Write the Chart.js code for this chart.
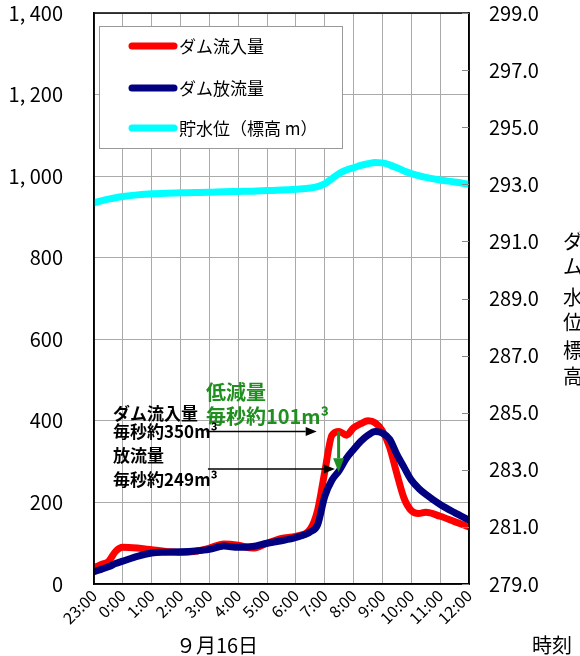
<!DOCTYPE html>
<html><head><meta charset="utf-8">
<script src="https://cdn.jsdelivr.net/npm/chart.js@4.4.0/dist/chart.umd.min.js"></script>
<style>html,body{margin:0;padding:0;background:#fff;}</style>
</head><body>
<canvas id="c" width="580" height="656"></canvas>
<script>
// ---- data ----
const timeLabels = ['23:00','0:00','1:00','2:00','3:00','4:00','5:00','6:00','7:00','8:00','9:00','10:00','11:00','12:00'];
const leftTickLabels = ['0','200','400','600','800','1, 000','1, 200','1, 400'];
// hours relative to 0:00 on 9/16 (23:00 of previous day = -1)
const hours = [-1,-0.75,-0.5,-0.25,0,0.5,1,1.5,2,2.5,3,3.5,4,4.5,5,5.5,6,6.5,6.75,7,7.25,7.5,7.75,8,8.25,8.5,8.75,9,9.25,9.5,9.75,10,10.25,10.5,11,11.5,12];
const inflow = [40,48,55,80,90,88,84,80,77,80,88,98,95,88,100,112,117,135,180,275,365,374,365,383,393,400,395,375,335,270,210,180,173,176,166,153,140];
const outflow = [30,36,42,50,56,68,76,78,79,81,85,93,90,92,100,106,114,128,145,215,255,278,308,330,350,365,374,370,355,318,286,255,235,220,195,175,157];
const waterLevel = [292.35,292.42,292.48,292.53,292.57,292.63,292.67,292.69,292.70,292.71,292.72,292.74,292.75,292.76,292.78,292.80,292.83,292.87,292.92,293.02,293.2,293.38,293.5,293.58,293.66,293.72,293.76,293.75,293.68,293.58,293.47,293.38,293.3,293.24,293.15,293.08,293.0];
const seriesNames = ['ダム流入量','ダム放流量','貯水位（標高 m）'];
const seriesColors = ['#ff0000','#000080','#00ffff'];

const JP = '"Noto Sans CJK JP", "Noto Sans", sans-serif';
const toXY = (ys) => hours.map((h, i) => ({x: h, y: ys[i]}));

const overlay = {
  id: 'overlay',
  afterDraw(chart) {
    const ctx = chart.ctx, a = chart.chartArea;
    const xs = chart.scales.x, ys = chart.scales.y, y1 = chart.scales.y1;
    ctx.save();
    // frame
    ctx.strokeStyle = '#000'; ctx.lineWidth = 1.5;
    ctx.strokeRect(a.left, a.top, a.right - a.left, a.bottom - a.top);
    // inward ticks of right axis
    ctx.strokeStyle = '#888'; ctx.lineWidth = 1;
    y1.ticks.forEach(t => {
      const py = Math.round(y1.getPixelForValue(t.value)) + 0.5;
      ctx.beginPath(); ctx.moveTo(a.right - 7, py); ctx.lineTo(a.right, py); ctx.stroke();
    });
    // legend box
    const lx = a.left + 5, ly = a.top + 13, lw = 243, lh = 122;
    ctx.fillStyle = '#fff'; ctx.fillRect(lx, ly, lw, lh);
    ctx.strokeStyle = '#999'; ctx.lineWidth = 1;
    ctx.strokeRect(lx + 0.5, ly + 0.5, lw, lh);
    ctx.font = '17px ' + JP; ctx.textBaseline = 'middle'; ctx.textAlign = 'left';
    const rows = [ly + 20, ly + 62, ly + 102];
    chart.data.datasets.forEach((d, i) => {
      const ry = rows[i];
      ctx.strokeStyle = d.borderColor; ctx.lineWidth = 7; ctx.lineCap = 'round';
      ctx.beginPath(); ctx.moveTo(lx + 33, ry); ctx.lineTo(lx + 75, ry); ctx.stroke();
      ctx.fillStyle = '#000';
      ctx.fillText(d.label, lx + 80, ry + 1);
    });
    ctx.lineCap = 'butt';
    // annotations (data coordinates)
    const X = v => xs.getPixelForValue(v), Y = v => ys.getPixelForValue(v);
    const idx = hours.indexOf(7.5);
    const arrow = (x1, y1p, x2, y2p, color, w, hl, hw) => {
      const ang = Math.atan2(y2p - y1p, x2 - x1);
      ctx.strokeStyle = color; ctx.fillStyle = color; ctx.lineWidth = w;
      ctx.beginPath(); ctx.moveTo(x1, y1p);
      ctx.lineTo(x2 - hl * Math.cos(ang), y2p - hl * Math.sin(ang)); ctx.stroke();
      ctx.beginPath(); ctx.moveTo(x2, y2p);
      ctx.lineTo(x2 - hl * Math.cos(ang) + hw / 2 * Math.sin(ang), y2p - hl * Math.sin(ang) - hw / 2 * Math.cos(ang));
      ctx.lineTo(x2 - hl * Math.cos(ang) - hw / 2 * Math.sin(ang), y2p - hl * Math.sin(ang) + hw / 2 * Math.cos(ang));
      ctx.closePath(); ctx.fill();
    };
    // black arrows
    arrow(X(2.9), Y(inflow[idx]), X(6.72), Y(inflow[idx]), '#000', 1.5, 11, 9);
    arrow(X(2.95), Y(outflow[idx] + 4), X(7.35), Y(outflow[idx] + 4), '#000', 1.5, 11, 9);
    // green arrow (reduction)
    arrow(X(7.48), Y(inflow[idx]), X(7.48), Y(outflow[idx] - 4), '#1f8f1f', 3, 14, 11);
    // texts
    ctx.textAlign = 'left'; ctx.textBaseline = 'middle';
    ctx.fillStyle = '#1f8f1f'; ctx.font = 'bold 20px ' + JP;
    ctx.fillText('低減量', X(2.88), Y(470));
    ctx.fillText('毎秒約101m³', X(2.88), Y(410));
    ctx.fillStyle = '#000'; ctx.font = 'bold 17px ' + JP;
    ctx.fillText('ダム流入量', X(-0.34), Y(418));
    ctx.fillText('毎秒約350m³', X(-0.34), Y(374));
    ctx.fillText('放流量', X(-0.34), Y(316));
    ctx.fillText('毎秒約249m³', X(-0.34), Y(255));
    // bottom labels
    ctx.font = '20px ' + JP; ctx.textAlign = 'center';
    ctx.fillText('９月16日', 217, 645);
    ctx.fillText('時刻', 552, 645);
    // right axis title (vertical stacked)
    ctx.textAlign = 'left';
    const tchars = ['ダ','ム','水','位','標','高'];
    const tys = [241, 266, 297, 322, 350, 376];
    tchars.forEach((c, i) => ctx.fillText(c, 563, tys[i]));
    ctx.restore();
  }
};

new Chart(document.getElementById('c'), {
  type: 'line',
  data: {
    datasets: [
      {label: seriesNames[0], data: toXY(inflow), borderColor: seriesColors[0], yAxisID: 'y', order: 2},
      {label: seriesNames[1], data: toXY(outflow), borderColor: seriesColors[1], yAxisID: 'y', order: 1},
      {label: seriesNames[2], data: toXY(waterLevel), borderColor: seriesColors[2], yAxisID: 'y1', order: 3}
    ]
  },
  options: {
    responsive: false, animation: false, devicePixelRatio: 1,
    layout: {padding: {top: 13, right: 0, bottom: 0, left: 0}},
    plugins: {legend: {display: false}, tooltip: {enabled: false}},
    elements: {
      point: {radius: 0},
      line: {borderWidth: 7, tension: 0.4, cubicInterpolationMode: 'monotone', fill: false, borderJoinStyle: 'round', borderCapStyle: 'round'}
    },
    scales: {
      x: {
        type: 'linear', min: -1, max: 12,
        ticks: {stepSize: 1, autoSkip: false, minRotation: 45, maxRotation: 45, padding: 2,
          color: '#000', font: {size: 16, family: JP},
          callback: v => timeLabels[Math.round(v) + 1]},
        grid: {color: '#aaa', lineWidth: 1, drawTicks: false},
        border: {color: '#000', width: 1.5},
        afterFit: s => { s.height = 72; }
      },
      y: {
        position: 'left', min: 0, max: 1400,
        ticks: {stepSize: 200, padding: 0, color: '#000', font: {size: 20, family: JP},
          callback: v => leftTickLabels[Math.round(v / 200)]},
        grid: {color: '#aaa', lineWidth: 1, drawTicks: true, tickLength: 31, tickColor: 'rgba(0,0,0,0)'},
        border: {color: '#000', width: 1.5},
        afterFit: s => { s.width = 94; }
      },
      y1: {
        position: 'right', min: 279, max: 299,
        ticks: {stepSize: 2, padding: 0, color: '#000', font: {size: 20, family: JP},
          callback: v => v.toFixed(1)},
        grid: {drawOnChartArea: false, drawTicks: true, tickLength: 20, tickColor: 'rgba(0,0,0,0)'},
        border: {color: '#000', width: 1.5},
        afterFit: s => { s.width = 111; }
      }
    }
  },
  plugins: [overlay]
});
</script>
</body></html>
